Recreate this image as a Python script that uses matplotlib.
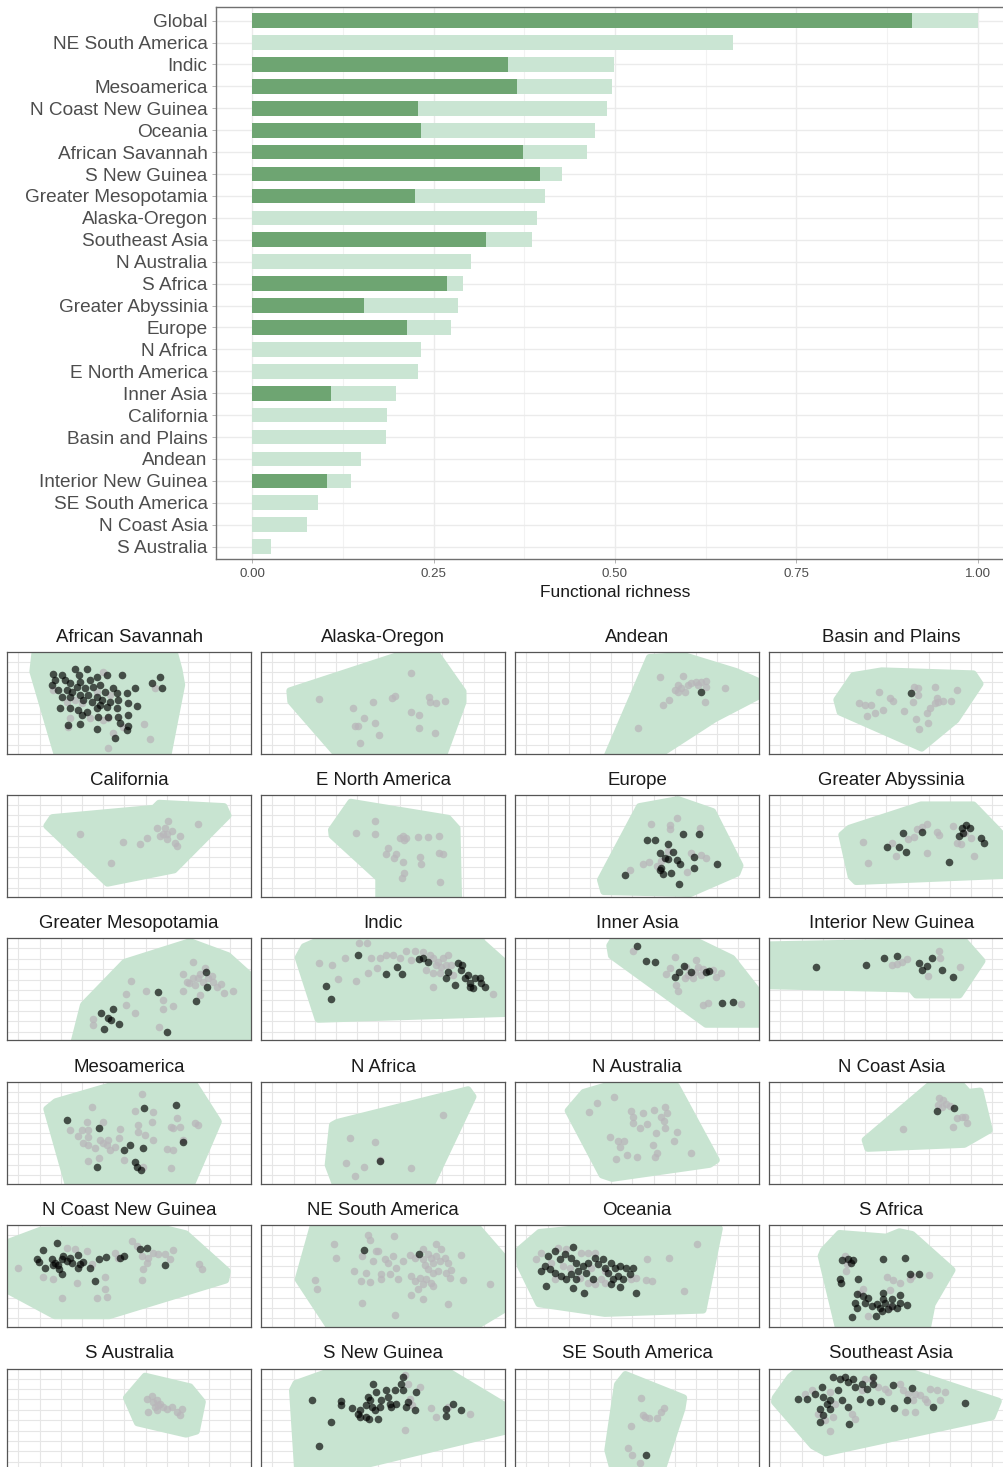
import numpy as np
import matplotlib
matplotlib.use("Agg")
import matplotlib.pyplot as plt
from matplotlib.patches import Polygon

plt.rcParams['font.family'] = ['Liberation Sans', 'DejaVu Sans']

# ---------------- bar chart data ----------------
regions = ["Global", "NE South America", "Indic", "Mesoamerica", "N Coast New Guinea",
           "Oceania", "African Savannah", "S New Guinea", "Greater Mesopotamia",
           "Alaska-Oregon", "Southeast Asia", "N Australia", "S Africa",
           "Greater Abyssinia", "Europe", "N Africa", "E North America", "Inner Asia",
           "California", "Basin and Plains", "Andean", "Interior New Guinea",
           "SE South America", "N Coast Asia", "S Australia"]
total_richness = [1.000, 0.663, 0.498, 0.496, 0.489, 0.473, 0.462, 0.427, 0.404, 0.393,
                  0.385, 0.301, 0.291, 0.283, 0.274, 0.232, 0.229, 0.198, 0.186, 0.185,
                  0.150, 0.136, 0.090, 0.075, 0.026]
subset_richness = [0.909, 0.0, 0.353, 0.365, 0.229, 0.233, 0.373, 0.397, 0.224, 0.0,
                   0.322, 0.0, 0.269, 0.154, 0.213, 0.0, 0.0, 0.109, 0.0, 0.0,
                   0.0, 0.103, 0.0, 0.0, 0.0]
x_ticks = [0.0, 0.25, 0.5, 0.75, 1.0]
x_tick_labels = ["0.00", "0.25", "0.50", "0.75", "1.00"]

# ---------------- functional space panels (PC units) ----------------
african_savannah_hull = [(85,-20),(495,-20),(515,55),(523,100),(478,330),(155,330),(76,60)]
african_savannah_grey = [(288,62),(138,115),(178,150),(223,155),(188,200),(248,200),(288,205),
    (303,200),(410,218),(428,262),(303,290),(183,225),(318,245),(443,110),(203,145),(268,120),
    (308,130),(348,225)]
african_savannah_black = [(138,68),(163,70),(203,53),(240,53),(216,70),(173,85),(188,95),(218,90),
    (248,85),(268,75),(298,70),(343,70),(133,100),(153,115),(178,115),(193,120),(208,105),(233,110),
    (258,105),(278,100),(293,120),(318,110),(328,125),(358,123),(383,110),(163,135),(188,135),
    (218,130),(243,130),(268,135),(283,145),(308,150),(333,145),(363,155),(388,163),(158,170),
    (188,170),(213,175),(238,180),(268,170),(278,160),(298,165),(328,170),(223,190),(273,195),
    (303,195),(333,195),(363,190),(338,215),(363,223),(358,235),(183,220),(218,217),(268,233),
    (323,260),(433,95),(458,75),(465,108),(143,85),(228,145),(253,150)]

alaska_oregon_hull = [(85,118),(470,-8),(515,-8),(605,120),(605,152),(540,330),(245,330),(88,150)]
alaska_oregon_grey = [(450,63),(172,143),(335,150),(393,138),(400,132),(502,137),(505,150),(525,155),
    (550,148),(275,170),(450,180),(472,190),(307,198),(280,222),(290,223),(340,213),(473,230),
    (353,250),(522,245),(295,273)]
alaska_oregon_black = []

andean_hull = [(402,18),(505,12),(662,60),(775,110),(598,202),(400,330),(268,330)]
andean_grey = [(433,75),(503,73),(488,100),(478,115),(498,110),(508,120),(518,100),(528,95),
    (543,90),(558,90),(573,87),(573,105),(568,150),(630,110),(460,145),(443,160),(368,228),
    (488,120),(548,100)]
andean_black = [(556,120)]

basin_plains_hull = [(202,145),(252,72),(337,58),(612,67),(632,97),(560,205),(457,290),(212,182)]
basin_plains_grey = [(269,153),(287,160),(304,160),(292,192),(317,185),(342,175),(329,120),
    (362,140),(372,148),(405,177),(435,105),(447,110),(447,130),(432,150),(439,203),(450,233),
    (477,213),(472,185),(482,170),(497,155),(502,140),(522,148),(545,148),(562,115),(497,105),
    (507,150)]
basin_plains_black = [(425,123)]

california_hull = [(118,93),(135,68),(440,40),(455,25),(650,35),(662,62),(500,225),(300,265)]
california_grey = [(218,118),(310,203),(348,141),(398,146),(420,130),(448,98),(458,123),(473,98),
    (483,78),(478,133),(493,108),(468,116),(503,143),(508,153),(518,123),(571,86),(478,118)]
california_black = []

e_north_america_hull = [(210,105),(268,22),(560,70),(587,100),(592,330),(352,330),(352,250),(212,122)]
e_north_america_grey = [(342,78),(285,115),(340,116),(415,130),(425,123),(433,130),(427,136),
    (470,125),(500,125),(533,123),(380,160),(375,176),(405,176),(398,188),(475,186),(480,208),
    (533,173),(545,178),(425,201),(427,233),(422,250),(535,260)]
e_north_america_black = []

europe_hull = [(372,35),(488,14),(592,50),(674,212),(665,235),(525,296),(265,290),(255,255)]
europe_grey = [(408,86),(465,90),(465,103),(485,70),(553,100),(383,208),(400,200),(343,226),
    (426,213),(436,198),(516,231),(528,173),(558,180),(573,188),(458,168)]
europe_black = [(396,135),(420,135),(458,148),(503,118),(550,118),(433,175),(473,171),(458,191),
    (486,195),(493,208),(536,186),(536,218),(606,208),(433,226),(443,238),(468,233),(328,241),
    (491,266),(438,218),(448,188)]

greater_abyssinia_hull = [(217,120),(240,100),(455,30),(612,30),(680,100),(745,170),(745,240),
    (260,260),(245,245)]
greater_abyssinia_grey = [(280,141),(297,205),(367,145),(379,183),(415,133),(435,126),(442,101),
    (457,96),(472,86),(472,173),(504,111),(510,121),(552,93),(562,143),(575,148),(587,113),
    (615,183),(604,128)]
greater_abyssinia_black = [(400,115),(457,111),(352,155),(389,155),(410,170),(540,201),(569,123),
    (580,113),(589,90),(602,98),(635,130),(645,145),(577,98)]

greater_mesopotamia_hull = [(195,330),(228,200),(352,72),(548,10),(662,52),(740,122),(740,330)]
greater_mesopotamia_grey = [(258,242),(258,260),(383,225),(356,200),(356,167),(371,127),(416,158),
    (468,213),(498,203),(468,185),(456,267),(526,158),(546,135),(558,120),(558,70),(528,107),
    (573,120),(578,107),(588,130),(603,120),(613,112),(618,130),(628,145),(640,138),(650,163),
    (678,157),(578,170),(593,90),(538,130),(563,140)]
greater_mesopotamia_black = [(280,225),(318,213),(303,240),(311,245),(336,257),(291,273),(480,280),
    (453,160),(565,187),(596,100),(598,145)]

indic_hull = [(110,58),(128,25),(220,-15),(632,-15),(750,90),(750,225),(170,243)]
indic_grey = [(173,73),(212,80),(252,60),(230,123),(283,128),(293,13),(317,13),(330,58),(355,58),
    (375,50),(395,50),(348,90),(320,105),(435,37),(460,37),(485,40),(505,50),(515,60),(530,70),
    (545,60),(560,50),(525,80),(540,85),(555,80),(495,95),(515,105),(535,105),(570,80),(515,145),
    (695,168),(415,60),(450,65),(575,110)]
indic_black = [(290,50),(193,142),(208,183),(375,108),(407,87),(422,107),(473,63),(500,70),
    (555,120),(580,140),(590,73),(603,80),(600,95),(620,110),(627,135),(635,148),(655,118),
    (660,135),(670,147),(640,120),(610,120),(560,100),(485,58),(625,145)]

inner_asia_hull = [(283,22),(305,-15),(495,-15),(650,60),(748,185),(748,258),(572,258),(288,52)]
inner_asia_grey = [(353,37),(478,55),(451,108),(463,88),(483,140),(488,157),(513,85),(518,110),
    (533,120),(543,65),(548,85),(558,110),(563,92),(593,95),(603,115),(618,105),(563,200),
    (578,195),(676,198),(508,120),(538,100)]
inner_asia_black = [(366,23),(393,68),(418,70),(506,83),(490,102),(478,117),(573,100),(580,97),
    (621,193),(653,192),(528,102)]

interior_new_guinea_hull = [(-20,20),(585,8),(638,68),(570,170),(440,170),(425,152),(-20,142)]
interior_new_guinea_grey = [(367,80),(382,77),(397,70),(412,63),(510,37),(512,60),(477,112),(572,85)]
interior_new_guinea_black = [(139,85),(290,80),(344,60),(384,52),(450,73),(472,83),(457,95),
    (487,60),(517,95),(552,115)]

mesoamerica_hull = [(118,82),(145,60),(385,-10),(550,-10),(633,120),(543,330),(188,330)]
mesoamerica_grey = [(403,38),(383,88),(436,90),(253,77),(188,145),(223,145),(238,120),(243,145),
    (226,183),(243,190),(263,200),(278,175),(288,185),(303,175),(298,190),(323,195),(308,205),
    (338,142),(335,170),(288,120),(393,150),(413,160),(438,175),(433,120),(393,130),(490,135),
    (496,140),(518,135),(510,110),(563,125),(573,130),(478,203),(498,205),(490,260),(243,238),
    (276,230),(351,235),(211,163),(243,167),(526,175),(408,255)]
mesoamerica_black = [(178,115),(276,140),(410,80),(506,70),(368,190),(351,205),(406,200),(268,257),
    (383,240),(388,255),(401,265),(528,182)]

n_africa_hull = [(228,122),(620,24),(635,45),(500,330),(230,330),(200,250),(213,130)]
n_africa_grey = [(545,100),(267,168),(340,182),(255,245),(307,257),(282,282),(450,260),(355,235)]
n_africa_black = [(355,238)]

n_australia_hull = [(158,87),(205,32),(270,13),(483,13),(603,235),(583,248),(290,290),(260,280)]
n_australia_grey = [(296,45),(246,63),(220,90),(348,88),(383,93),(415,85),(448,75),(455,95),
    (353,105),(353,125),(373,140),(396,128),(446,117),(448,140),(423,153),(485,150),(283,165),
    (308,178),(325,177),(313,195),(475,178),(413,190),(303,233),(336,221),(366,227),(420,227),
    (424,215),(528,215),(438,105)]
n_australia_black = []

n_coast_asia_hull = [(287,175),(487,5),(575,8),(597,32),(632,28),(660,145),(585,188),(295,200)]
n_coast_asia_grey = [(509,50),(522,55),(529,67),(507,70),(542,73),(562,110),(577,105),(587,105),
    (594,123),(552,137),(402,143),(517,75)]
n_coast_asia_black = [(504,87),(554,80)]

n_coast_new_guinea_hull = [(-20,60),(100,15),(478,12),(535,26),(660,138),(655,165),(305,272),
    (142,272),(-20,185)]
n_coast_new_guinea_grey = [(33,128),(108,156),(138,163),(208,173),(163,218),(268,218),(300,216),
    (293,191),(293,156),(178,68),(238,78),(253,118),(203,73),(323,83),(333,98),(373,48),(388,63),
    (403,93),(408,133),(423,98),(438,83),(453,88),(473,88),(488,101),(498,76),(403,166),(576,116),
    (583,133),(418,113)]
n_coast_new_guinea_black = [(148,55),(108,76),(88,103),(96,110),(113,128),(133,101),(143,113),
    (153,121),(163,103),(168,93),(178,108),(188,98),(193,113),(213,90),(218,116),(228,110),
    (213,128),(248,128),(163,146),(263,168),(276,101),(295,96),(338,98),(350,93),(398,73),
    (418,68),(473,120),(156,133),(138,121)]

ne_south_america_hull = [(110,163),(160,-15),(630,-15),(750,123),(750,240),(600,330),(220,330)]
ne_south_america_grey = [(218,56),(225,98),(162,166),(167,191),(320,30),(327,45),(398,33),(303,93),
    (343,78),(350,78),(335,108),(370,103),(380,113),(395,93),(405,128),(425,108),(445,91),(460,98),
    (485,73),(485,103),(500,88),(510,98),(525,56),(540,73),(525,93),(535,108),(550,98),(560,113),
    (515,113),(490,121),(500,133),(515,143),(530,138),(555,143),(570,135),(600,90),(360,148),
    (385,148),(360,163),(410,161),(450,153),(460,168),(475,158),(485,178),(495,163),(510,173),
    (515,183),(470,193),(450,211),(485,223),(565,158),(605,166),(560,238),(303,235),(300,168),
    (327,170),(402,270),(687,178),(278,138),(315,143)]
ne_south_america_black = [(307,76),(472,88)]

oceania_hull = [(10,75),(72,22),(268,2),(612,10),(563,255),(268,265),(70,236),(14,122)]
oceania_grey = [(63,101),(78,83),(128,68),(153,73),(108,113),(143,123),(163,128),(198,83),(218,83),
    (238,83),(193,158),(218,173),(238,178),(258,163),(268,173),(348,163),(363,158),(396,103),
    (461,98),(393,165),(411,168),(545,58),(506,198),(118,163),(228,128),(268,138)]
oceania_black = [(173,66),(98,93),(118,78),(133,103),(148,88),(168,98),(183,113),(203,123),(88,123),
    (103,133),(118,145),(138,153),(153,163),(168,148),(188,138),(183,163),(218,113),(238,98),
    (248,118),(263,103),(268,128),(288,113),(298,128),(313,123),(333,128),(353,128),(278,143),
    (293,163),(308,153),(323,163),(343,148),(288,178),(313,185),(233,163),(93,183),(173,188),
    (206,205),(363,205),(78,138),(213,143)]

s_africa_hull = [(162,76),(210,25),(350,36),(390,20),(428,28),(548,135),(488,238),(470,330),
    (212,330),(155,93)]
s_africa_grey = [(227,93),(232,118),(229,138),(352,156),(372,166),(392,173),(422,163),(429,153),
    (479,149),(362,195),(282,193),(272,203),(362,246),(295,273)]
s_africa_black = [(217,106),(237,101),(252,105),(244,113),(342,103),(407,100),(422,148),(450,148),
    (212,161),(215,175),(265,163),(262,208),(282,213),(297,218),(342,203),(257,233),(287,235),
    (307,243),(322,238),(332,248),(347,233),(357,253),(367,243),(382,248),(392,233),(412,241),
    (392,211),(337,258),(319,273),(249,276),(262,248),(342,223),(367,223)]

s_australia_hull = [(413,23),(548,55),(585,100),(567,188),(536,197),(390,163),(357,88)]
s_australia_grey = [(418,90),(433,83),(438,100),(448,95),(458,105),(443,115),(423,130),(448,125),
    (468,115),(478,120),(493,115),(508,130),(523,120),(518,140),(453,110)]
s_australia_black = []

s_new_guinea_hull = [(103,45),(270,-15),(520,-15),(745,120),(745,185),(140,330),(110,330),(93,65)]
s_new_guinea_grey = [(430,20),(445,90),(477,55),(510,118),(525,145),(560,115),(625,135),(430,185),
    (440,45),(452,108)]
s_new_guinea_black = [(153,95),(208,160),(173,232),(240,98),(240,108),(273,117),(290,137),(295,125),
    (315,145),(295,145),(320,85),(327,95),(333,115),(345,70),(360,95),(355,115),(340,125),(375,65),
    (380,85),(385,105),(400,63),(390,115),(405,105),(425,25),(420,45),(425,63),(435,115),(440,100),
    (460,123),(465,70),(335,45),(323,150),(350,150),(555,120),(555,143),(575,105),(600,125),(315,110)]

se_south_america_hull = [(330,18),(505,88),(500,120),(432,330),(300,330),(277,245),(306,48)]
se_south_america_grey = [(378,88),(383,140),(390,145),(400,148),(426,148),(438,130),(446,118),
    (348,172),(338,238),(350,260),(373,283)]
se_south_america_black = [(393,258)]

southeast_asia_hull = [(17,88),(62,25),(112,-15),(345,-15),(687,98),(668,145),(168,253),(130,232),
    (15,100)]
southeast_asia_grey = [(107,75),(127,65),(182,70),(197,105),(147,135),(167,155),(182,188),(192,145),
    (247,135),(257,150),(277,65),(327,55),(347,60),(357,70),(392,45),(402,65),(417,75),(437,75),
    (452,80),(467,90),(432,95),(407,130),(437,130),(482,60),(502,65),(527,70),(512,95),(472,100),
    (287,30),(307,35)]
southeast_asia_black = [(87,92),(112,92),(137,75),(157,55),(162,85),(172,105),(152,120),(162,140),
    (152,160),(182,120),(192,25),(212,30),(227,25),(237,40),(252,30),(257,55),(277,45),(292,60),
    (312,25),(312,45),(207,65),(217,95),(237,115),(272,90),(302,100),(335,98),(372,50),(429,57),
    (412,95),(375,117),(239,167),(492,115),(587,103),(182,95)]

panels = [
    ("African Savannah", african_savannah_hull, african_savannah_grey, african_savannah_black),
    ("Alaska-Oregon", alaska_oregon_hull, alaska_oregon_grey, alaska_oregon_black),
    ("Andean", andean_hull, andean_grey, andean_black),
    ("Basin and Plains", basin_plains_hull, basin_plains_grey, basin_plains_black),
    ("California", california_hull, california_grey, california_black),
    ("E North America", e_north_america_hull, e_north_america_grey, e_north_america_black),
    ("Europe", europe_hull, europe_grey, europe_black),
    ("Greater Abyssinia", greater_abyssinia_hull, greater_abyssinia_grey, greater_abyssinia_black),
    ("Greater Mesopotamia", greater_mesopotamia_hull, greater_mesopotamia_grey, greater_mesopotamia_black),
    ("Indic", indic_hull, indic_grey, indic_black),
    ("Inner Asia", inner_asia_hull, inner_asia_grey, inner_asia_black),
    ("Interior New Guinea", interior_new_guinea_hull, interior_new_guinea_grey, interior_new_guinea_black),
    ("Mesoamerica", mesoamerica_hull, mesoamerica_grey, mesoamerica_black),
    ("N Africa", n_africa_hull, n_africa_grey, n_africa_black),
    ("N Australia", n_australia_hull, n_australia_grey, n_australia_black),
    ("N Coast Asia", n_coast_asia_hull, n_coast_asia_grey, n_coast_asia_black),
    ("N Coast New Guinea", n_coast_new_guinea_hull, n_coast_new_guinea_grey, n_coast_new_guinea_black),
    ("NE South America", ne_south_america_hull, ne_south_america_grey, ne_south_america_black),
    ("Oceania", oceania_hull, oceania_grey, oceania_black),
    ("S Africa", s_africa_hull, s_africa_grey, s_africa_black),
    ("S Australia", s_australia_hull, s_australia_grey, s_australia_black),
    ("S New Guinea", s_new_guinea_hull, s_new_guinea_grey, s_new_guinea_black),
    ("SE South America", se_south_america_hull, se_south_america_grey, se_south_america_black),
    ("Southeast Asia", southeast_asia_hull, southeast_asia_grey, southeast_asia_black),
]

# ---------------- styling ----------------
DARK = "#6EA572"
LIGHT = "#CAE5D3"
HULL = "#C8E4D1"
GRID = "#EBEBEB"
TXT = "#4D4D4D"

W, H = 1004, 1467
fig = plt.figure(figsize=(W / 100, H / 100), dpi=100)
fig.patch.set_facecolor("white")

def px_axes(left, top, width, height):
    return fig.add_axes([left / W, 1 - (top + height) / H, width / W, height / H])

# ---------------- bar chart ----------------
ax = px_axes(216, 7.3, 798, 552)
ypos = np.arange(len(regions))
ax.barh(ypos, total_richness, height=0.67, color=LIGHT, zorder=2)
ax.barh(ypos, subset_richness, height=0.67, color=DARK, zorder=3)
ax.set_xlim(-0.05, 1.05)
ax.set_ylim(len(regions) - 1 + 0.58, -0.61)
ax.set_yticks(ypos)
ax.set_yticklabels(regions, fontsize=13.7, color=TXT)
ax.set_xticks(x_ticks)
ax.set_xticklabels(x_tick_labels, fontsize=9.6, color=TXT)
ax.set_xticks([0.125, 0.375, 0.625, 0.875], minor=True)
ax.tick_params(axis="x", which="minor", length=0)
ax.tick_params(axis="both", which="major", length=3, width=0.7, color="#B3B3B3", pad=3)
ax.tick_params(axis="y", which="major", pad=3)
ax.grid(True, which="major", color=GRID, lw=1.0, zorder=0)
ax.grid(True, which="minor", axis="x", color="#F2F2F2", lw=0.8, zorder=0)
ax.set_axisbelow(True)
for s in ax.spines.values():
    s.set_color("#707070")
    s.set_linewidth(1.0)
fig.text(615 / W, 1 - 592 / H, "Functional richness", ha="center", va="center",
         fontsize=12.5, color="#1A1A1A")

# ---------------- facet panels ----------------
col_left = [7.5, 261.5, 515.5, 769.5]
row_top = [651.5, 794.9, 938.3, 1081.7, 1225.1, 1368.5]
pw, ph = 243.5, 102.0
grid_x = 33 + 63.6 * np.arange(11)
grid_y = 30 + 31.2 * np.arange(9)

for i, (name, hull, grey, black) in enumerate(panels):
    r, c = divmod(i, 4)
    pax = px_axes(col_left[c], row_top[r], pw, ph)
    pax.set_xlim(0, 731)
    pax.set_ylim(306, 0)
    for gx in grid_x:
        pax.axvline(gx, color="#E6E6E6", lw=0.8, zorder=0)
    for gy in grid_y:
        pax.axhline(gy, color="#E6E6E6", lw=0.8, zorder=0)
    pax.add_patch(Polygon(np.array(hull), closed=True, fc=HULL, ec=HULL, lw=5,
                          joinstyle="round", zorder=1))
    if grey:
        g = np.array(grey)
        pax.scatter(g[:, 0], g[:, 1], s=30, color="#B9B6BA", alpha=0.75, lw=0, zorder=2)
    if black:
        b = np.array(black)
        pax.scatter(b[:, 0], b[:, 1], s=30, color="black", alpha=0.66, lw=0, zorder=3)
    pax.set_xticks([])
    pax.set_yticks([])
    for s in pax.spines.values():
        s.set_color("#555555")
        s.set_linewidth(0.9)
    fig.text((col_left[c] + pw / 2) / W, 1 - (row_top[r] - 10) / H, name,
             ha="center", va="baseline", fontsize=13.4, color="#1A1A1A")

fig.savefig("out.png", dpi=100)
